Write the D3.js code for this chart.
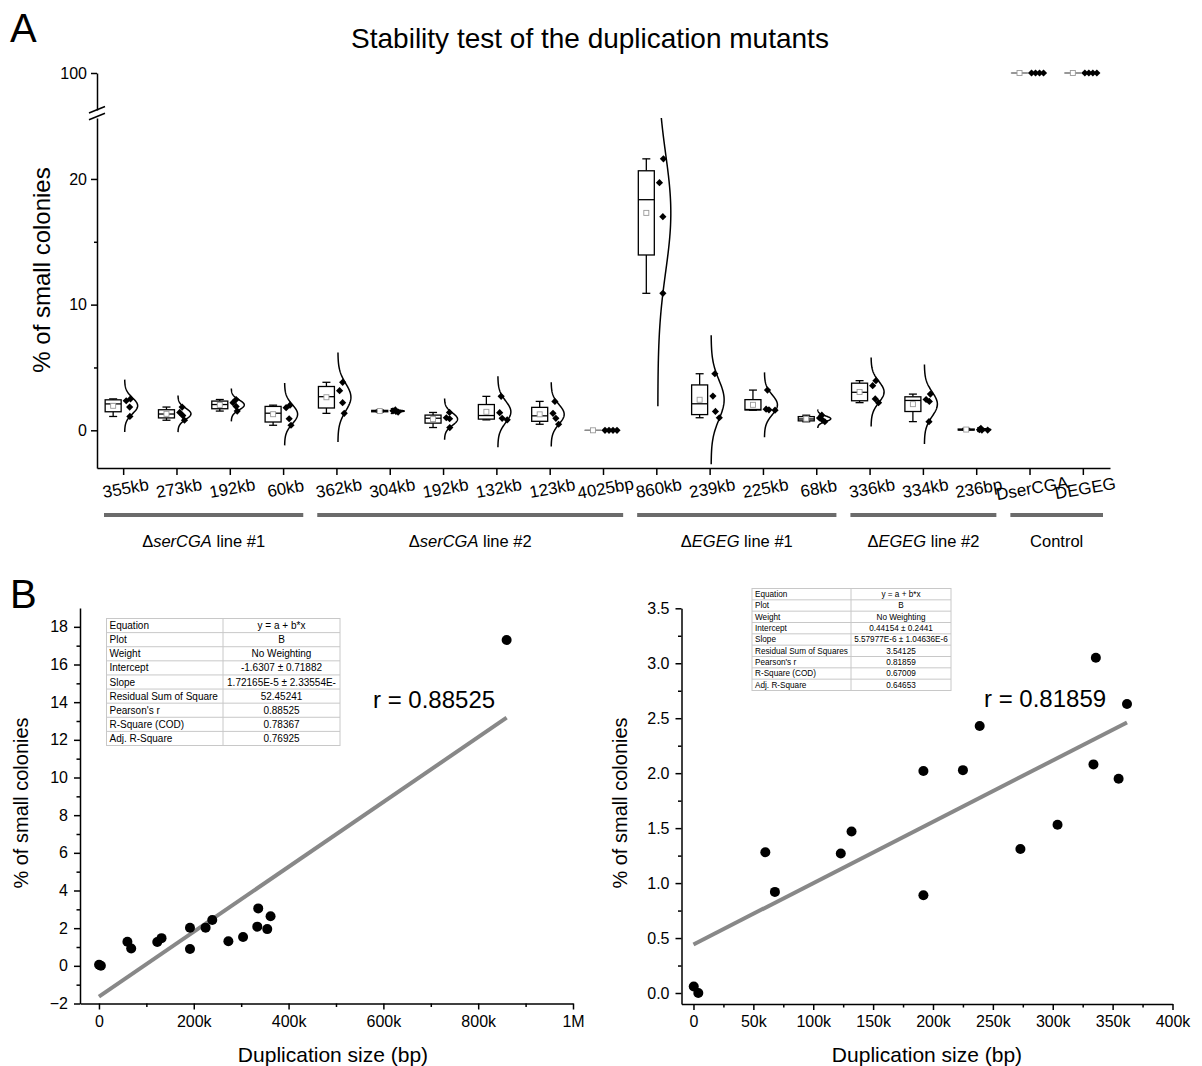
<!DOCTYPE html>
<html>
<head>
<meta charset="utf-8">
<script src="https://cdn.jsdelivr.net/npm/d3@7"></script>
<style>
  body { margin: 0; background: #fff; }
  svg { display: block; font-family: "Liberation Sans", Arial, Helvetica, sans-serif; }
</style>
</head>
<body>
<svg id="chart" width="1202" height="1066"></svg>
<script>
// ---- Panel A: replicate measurements per strain (% of small colonies) ----
const categories = ["355kb", "273kb", "192kb", "60kb", "362kb", "304kb", "192kb", "132kb", "123kb", "4025bp",
                    "860kb", "239kb", "225kb", "68kb", "336kb", "334kb", "236bp", "DserCGA", "DEGEG"];
const replicates = [
  [2.50, 2.35, 1.85, 1.10],
  [1.85, 1.42, 1.17, 0.80],
  [2.45, 2.20, 1.90, 1.53],
  [2.00, 1.80, 0.92, 0.40],
  [3.82, 3.15, 2.20, 1.35],
  [1.62, 1.55, 1.50, 1.45],
  [1.42, 1.00, 0.92, 0.22],
  [2.70, 1.40, 0.95, 0.83],
  [2.30, 1.35, 0.95, 0.48],
  [0.00, 0.00, 0.00, 0.00],
  [21.6, 19.7, 17.0, 10.9],
  [4.50, 2.72, 1.50, 1.00],
  [3.20, 1.68, 1.63, 1.60],
  [1.20, 0.98, 0.82, 0.68],
  [3.95, 3.55, 2.50, 2.20],
  [2.88, 2.45, 2.30, 0.69],
  [0.15, 0.05, 0.02, 0.02],
  [100, 100, 100, 100],
  [100, 100, 100, 100]
];
// duplication size (bp) of each mutant strain, in the same order (controls have none)
const duplicationSizes = [355000, 273000, 192000, 60000, 362000, 304000, 192000, 132000, 123000, 4025,
                          860000, 239000, 225000, 68000, 336000, 334000, 236];

// strain groups: label pieces and first/last category index
const groupPrefix = ["\u0394", "\u0394", "\u0394", "\u0394", ""];
const groupItalic = ["serCGA", "serCGA", "EGEG", "EGEG", ""];
const groupSuffix = [" line #1", " line #2", " line #1", " line #2", "Control"];
const groupSpans  = [[0, 3], [4, 9], [10, 13], [14, 16], [17, 18]];

const lowTicks = [0, 10, 20];
const lowMinorTicks = [5, 15];
const highTicks = [100];

// ---- Panel B: linear fit results ----
const fitRowLabels = ["Equation", "Plot", "Weight", "Intercept", "Slope", "Residual Sum of Square",
                      "Pearson's r", "R-Square (COD)", "Adj. R-Square"];
const fitAllValues = ["y = a + b*x", "B", "No Weighting", "-1.6307 \u00b1 0.71882", "1.72165E-5 \u00b1 2.33554E-",
                      "52.45241", "0.88525", "0.78367", "0.76925"];
const fitSubRowLabels = ["Equation", "Plot", "Weight", "Intercept", "Slope", "Residual Sum of Squares",
                         "Pearson's r", "R-Square (COD)", "Adj. R-Square"];
const fitSubValues = ["y = a + b*x", "B", "No Weighting", "0.44154 \u00b1 0.2441", "5.57977E-6 \u00b1 1.04636E-6",
                      "3.54125", "0.81859", "0.67009", "0.64653"];
const fitAllCoef = [-1.6307, 1.72165e-5];   // intercept, slope
const fitSubCoef = [0.44154, 5.57977e-6];
const fitAllR = "0.88525";
const fitSubR = "0.81859";
const sizeCutoff = 500000;   // the right-hand fit leaves out the largest duplication

const leftXTicks = [0, 200000, 400000, 600000, 800000, 1000000];
const leftYTicks = [-2, 0, 2, 4, 6, 8, 10, 12, 14, 16, 18];
const rightXTicks = [0, 50000, 100000, 150000, 200000, 250000, 300000, 350000, 400000];
const rightYTicks = [0, 0.5, 1, 1.5, 2, 2.5, 3, 3.5];

// ---------------------------------------------------------------------------
const svg = d3.select("#chart");
const FONT = "\"Liberation Sans\", Arial, Helvetica, sans-serif";

function styleAxis(g, fontSize) {
  g.selectAll("path, line").attr("stroke", "#000").attr("stroke-width", 1.5);
  g.selectAll("text").attr("font-family", FONT).attr("font-size", fontSize).attr("fill", "#000");
}

// ================= Panel A =================
svg.append("text").attr("x", 10).attr("y", 42).attr("font-size", 40).text("A");
svg.append("text").attr("x", 590).attr("y", 48).attr("text-anchor", "middle")
  .attr("font-size", 28).text("Stability test of the duplication mutants");

const xA = d3.scaleBand().domain(d3.range(categories.length)).range([97, 1110]);
const cA = i => xA(i) + xA.bandwidth() / 2;
const yLow = d3.scaleLinear().domain([-3, 24.85]).range([468, 118]);
const yHigh = d3.scaleLinear().domain([97, 100]).range([110, 73]);
const yFor = v => (v > 50 ? yHigh(v) : yLow(v));

// y axis, lower segment
const gLow = svg.append("g").attr("transform", "translate(97,0)")
  .call(d3.axisLeft(yLow).tickValues(lowTicks).tickFormat(d3.format("d")).tickSize(6).tickSizeOuter(0).tickPadding(4));
styleAxis(gLow, 16);
const gLowMinor = svg.append("g").attr("transform", "translate(97,0)")
  .call(d3.axisLeft(yLow).tickValues(lowMinorTicks).tickSize(3).tickFormat(""));
gLowMinor.select(".domain").remove();
styleAxis(gLowMinor, 16);
// y axis, upper segment
const gHigh = svg.append("g").attr("transform", "translate(97,0)")
  .call(d3.axisLeft(yHigh).tickValues(highTicks).tickFormat(d3.format("d")).tickSize(6).tickSizeOuter(0).tickPadding(4));
styleAxis(gHigh, 16);
// break marks
[0, 6.8].forEach(off => {
  svg.append("line").attr("x1", 89).attr("y1", 113 + off).attr("x2", 105).attr("y2", 106.5 + off)
    .attr("stroke", "#000").attr("stroke-width", 1.5);
});

// x axis
const gXA = svg.append("g").attr("transform", "translate(0,468)")
  .call(d3.axisBottom(xA).tickFormat(i => categories[i]).tickSize(7).tickSizeOuter(0));
styleAxis(gXA, 17);
gXA.selectAll(".tick text")
  .attr("text-anchor", "middle")
  .attr("y", 0).attr("dy", 0)
  .attr("transform", "translate(3,26) rotate(-10)");

// y title
svg.append("text").attr("transform", "translate(50,270) rotate(-90)")
  .attr("text-anchor", "middle").attr("font-size", 24).text("% of small colonies");

// boxes, curves and replicate points
const jitterFrac = [0.6, 0.1, 0.35, 0.9];
const diamond = "M0,-3.6L3.6,0L0,3.6L-3.6,0Z";
const curveHalfWidth = 13;

categories.forEach((name, i) => {
  const vals = replicates[i];
  const s = vals.slice().sort(d3.ascending);
  const half = Math.floor(s.length / 2);
  const q1 = d3.median(s.slice(0, s.length % 2 ? half + 1 : half));
  const q3 = d3.median(s.slice(half));
  const med = d3.median(s);
  const mean = d3.mean(s);
  const sd = d3.deviation(s) || 0;
  const lo = s[0], hi = s[s.length - 1];
  const tick = cA(i);
  const bx = tick - 10.5;
  const g = svg.append("g");
  const flat = hi - lo === 0;
  const stroke = flat ? "#8a8a8a" : "#000";

  // whiskers
  if (!flat) {
    g.append("line").attr("x1", bx).attr("x2", bx).attr("y1", yFor(hi)).attr("y2", yFor(q3))
      .attr("stroke", stroke).attr("stroke-width", 1.3);
    g.append("line").attr("x1", bx).attr("x2", bx).attr("y1", yFor(q1)).attr("y2", yFor(lo))
      .attr("stroke", stroke).attr("stroke-width", 1.3);
    [hi, lo].forEach(v => g.append("line").attr("x1", bx - 4).attr("x2", bx + 4)
      .attr("y1", yFor(v)).attr("y2", yFor(v)).attr("stroke", stroke).attr("stroke-width", 1.3));
  }
  // box
  g.append("rect").attr("x", bx - 8).attr("width", 16)
    .attr("y", yFor(q3)).attr("height", Math.max(yFor(q1) - yFor(q3), 0.01))
    .attr("fill", "#fff").attr("stroke", stroke).attr("stroke-width", 1.3);
  g.append("line").attr("x1", bx - 8).attr("x2", bx + 8).attr("y1", yFor(med)).attr("y2", yFor(med))
    .attr("stroke", stroke).attr("stroke-width", 1.3);
  // mean marker
  g.append("rect").attr("x", bx - 2.5).attr("y", yFor(mean) - 2.5).attr("width", 5).attr("height", 5)
    .attr("fill", "#fff").attr("stroke", "#9a9a9a").attr("stroke-width", 0.9);

  // normal distribution curve
  const widthAt = v => sd > 0 ? curveHalfWidth * Math.exp(-0.5 * ((v - mean) / sd) ** 2) : 0;
  if (sd > 0) {
    const [dLo, dHi] = yLow.domain();
    const vMin = Math.max(mean - 3.3 * sd, dLo), vMax = Math.min(mean + 3.3 * sd, dHi);
    const pts = d3.range(0, 101).map(k => vMin + (vMax - vMin) * k / 100);
    g.append("path")
      .attr("d", d3.line().x(v => tick + 1 + widthAt(v)).y(v => yLow(v))(pts))
      .attr("fill", "none").attr("stroke", "#000").attr("stroke-width", 1.5);
  }
  // replicate points
  vals.forEach((v, k) => {
    const px = sd > 0 ? tick + 1.5 + jitterFrac[k] * widthAt(v) : tick + 1.5 + k * 4;
    g.append("path").attr("d", diamond).attr("transform", `translate(${px},${yFor(v)})`).attr("fill", "#000");
  });
});

// group bars and labels
groupSpans.forEach(([a, b], gi) => {
  const x1 = xA(a) + 7, x2 = xA(b) + xA.bandwidth() - 7;
  svg.append("line").attr("x1", x1).attr("x2", x2).attr("y1", 515).attr("y2", 515)
    .attr("stroke", "#6b6b6b").attr("stroke-width", 4);
  const t = svg.append("text").attr("x", (x1 + x2) / 2).attr("y", 547)
    .attr("text-anchor", "middle").attr("font-size", 16.5);
  if (groupPrefix[gi]) t.append("tspan").text(groupPrefix[gi]);
  if (groupItalic[gi]) t.append("tspan").attr("font-style", "italic").text(groupItalic[gi]);
  t.append("tspan").text(groupSuffix[gi]);
});

// ================= Panel B =================
svg.append("text").attr("x", 10).attr("y", 608).attr("font-size", 40).text("B");

const means = replicates.slice(0, duplicationSizes.length).map(v => d3.mean(v));
const allPoints = duplicationSizes.map((s, i) => ({ size: s, pct: means[i] }));
const subPoints = allPoints.filter(p => p.size < sizeCutoff);

const kFormat = v => v === 0 ? "0" : v >= 1e6 ? (v / 1e6) + "M" : (v / 1000) + "k";

function scatterPanel(opt) {
  const { x, y, xTicks, xMinor, yTicks, yMinor, yFmt, points, coef, xMaxFit, rText, rPos,
          table, tableVals, tbl, xTitlePos, yTitlePos } = opt;
  const x0 = x.range()[0], yb = y.range()[0];
  const gx = svg.append("g").attr("transform", `translate(0,${yb})`)
    .call(d3.axisBottom(x).tickValues(xTicks).tickFormat(kFormat).tickSize(6).tickSizeOuter(0).tickPadding(6));
  styleAxis(gx, 16);
  const gxm = svg.append("g").attr("transform", `translate(0,${yb})`)
    .call(d3.axisBottom(x).tickValues(xMinor).tickSize(3.5).tickFormat(""));
  gxm.select(".domain").remove(); styleAxis(gxm, 16);
  const gy = svg.append("g").attr("transform", `translate(${x0},0)`)
    .call(d3.axisLeft(y).tickValues(yTicks).tickFormat(yFmt).tickSize(6).tickSizeOuter(0).tickPadding(6));
  styleAxis(gy, 16);
  const gym = svg.append("g").attr("transform", `translate(${x0},0)`)
    .call(d3.axisLeft(y).tickValues(yMinor).tickSize(3.5).tickFormat(""));
  gym.select(".domain").remove(); styleAxis(gym, 16);

  // fit line
  svg.append("line")
    .attr("x1", x(0)).attr("y1", y(coef[0]))
    .attr("x2", x(xMaxFit)).attr("y2", y(coef[0] + coef[1] * xMaxFit))
    .attr("stroke", "#888").attr("stroke-width", 4);

  // points
  svg.append("g").selectAll("circle").data(points).join("circle")
    .attr("cx", d => x(d.size)).attr("cy", d => y(d.pct)).attr("r", 5).attr("fill", "#000");

  // r label
  svg.append("text").attr("x", rPos[0]).attr("y", rPos[1]).attr("font-size", 24).text("r = " + rText);

  // fit table
  const tg = svg.append("g");
  const rowH = (tbl.bottom - tbl.top) / table.length;
  tg.append("rect").attr("x", tbl.left).attr("y", tbl.top).attr("width", tbl.right - tbl.left)
    .attr("height", tbl.bottom - tbl.top).attr("fill", "#fff").attr("stroke", "#c8c8c8").attr("stroke-width", 1);
  table.forEach((lab, r) => {
    const ty = tbl.top + r * rowH;
    if (r > 0) tg.append("line").attr("x1", tbl.left).attr("x2", tbl.right).attr("y1", ty).attr("y2", ty)
      .attr("stroke", "#c8c8c8").attr("stroke-width", 1);
    tg.append("text").attr("x", tbl.left + 3).attr("y", ty + rowH / 2).attr("dy", "0.36em")
      .attr("font-size", tbl.font).text(lab);
    tg.append("text").attr("x", (tbl.mid + tbl.right) / 2).attr("y", ty + rowH / 2).attr("dy", "0.36em")
      .attr("text-anchor", "middle").attr("font-size", tbl.font).text(tableVals[r]);
  });
  tg.append("line").attr("x1", tbl.mid).attr("x2", tbl.mid).attr("y1", tbl.top).attr("y2", tbl.bottom)
    .attr("stroke", "#c8c8c8").attr("stroke-width", 1);

  // titles
  svg.append("text").attr("x", xTitlePos[0]).attr("y", xTitlePos[1]).attr("text-anchor", "middle")
    .attr("font-size", 21).text("Duplication size (bp)");
  svg.append("text").attr("transform", `translate(${yTitlePos[0]},${yTitlePos[1]}) rotate(-90)`)
    .attr("text-anchor", "middle").attr("font-size", 20).text("% of small colonies");
}

scatterPanel({
  x: d3.scaleLinear().domain([-40000, 1000000]).range([80, 573]),
  y: d3.scaleLinear().domain([-2, 19]).range([1003.5, 608]),
  xTicks: leftXTicks, xMinor: d3.range(100000, 1000000, 200000),
  yTicks: leftYTicks, yMinor: d3.range(-1, 19, 2), yFmt: d3.format("d"),
  points: allPoints, coef: fitAllCoef, xMaxFit: d3.max(allPoints, d => d.size),
  rText: fitAllR, rPos: [373, 708],
  table: fitRowLabels, tableVals: fitAllValues,
  tbl: { left: 106.5, right: 340, mid: 223, top: 618.5, bottom: 745.5, font: 10 },
  xTitlePos: [333, 1062], yTitlePos: [28, 803]
});

scatterPanel({
  x: d3.scaleLinear().domain([-10000, 400000]).range([681.5, 1172.5]),
  y: d3.scaleLinear().domain([-0.1, 3.5]).range([1004, 608.3]),
  xTicks: rightXTicks, xMinor: d3.range(25000, 400000, 50000),
  yTicks: rightYTicks, yMinor: d3.range(0.25, 3.5, 0.5), yFmt: d3.format(".1f"),
  points: subPoints, coef: fitSubCoef, xMaxFit: d3.max(subPoints, d => d.size),
  rText: fitSubR, rPos: [984, 707],
  table: fitSubRowLabels, tableVals: fitSubValues,
  tbl: { left: 752, right: 951, mid: 851, top: 588.5, bottom: 690.5, font: 8.2 },
  xTitlePos: [927, 1062], yTitlePos: [627, 803]
});
</script>
</body>
</html>
